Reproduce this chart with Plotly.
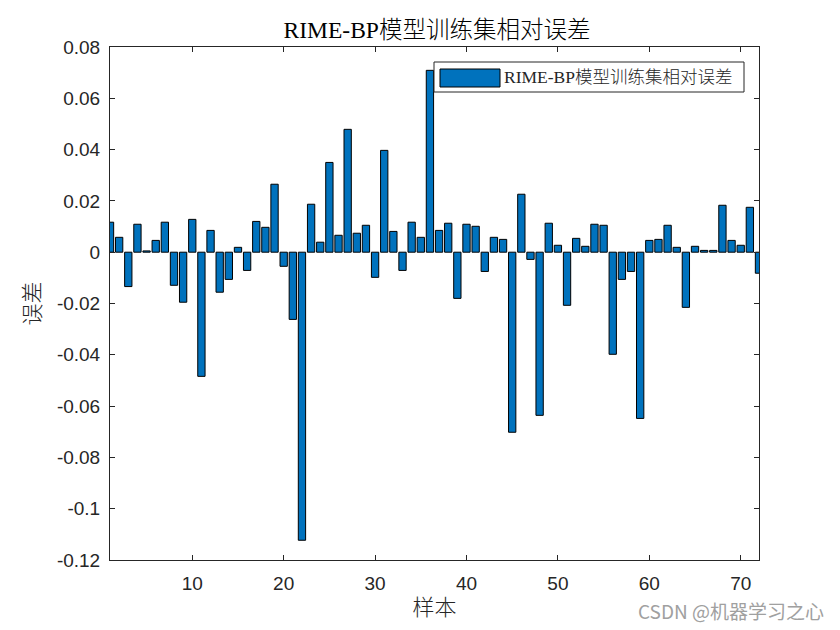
import plotly.graph_objects as go

samples = list(range(1, 73))
errors = [
    0.0117, 0.0058, -0.0134, 0.0109, 0.0005, 0.0046, 0.0117, -0.0129, -0.0195, 0.0128,
    -0.0484, 0.0085, -0.0156, -0.0106, 0.0019, -0.0071, 0.0120, 0.0097, 0.0265, -0.0055,
    -0.0262, -0.1123, 0.0187, 0.0039, 0.0350, 0.0066, 0.0479, 0.0074, 0.0105, -0.0098,
    0.0397, 0.0081, -0.0071, 0.0117, 0.0058, 0.0709, 0.0085, 0.0113, -0.0180, 0.0109,
    0.0101, -0.0075, 0.0058, 0.0050, -0.0702, 0.0226, -0.0028, -0.0636, 0.0113, 0.0027,
    -0.0207, 0.0054, 0.0023, 0.0109, 0.0105, -0.0398, -0.0106, -0.0075, -0.0648, 0.0046,
    0.0050, 0.0105, 0.0019, -0.0215, 0.0023, 0.0007, 0.0007, 0.0183, 0.0046, 0.0027,
    0.0175, -0.0082,
]
x_ticks = [10, 20, 30, 40, 50, 60, 70]
y_ticks = [0.08, 0.06, 0.04, 0.02, 0, -0.02, -0.04, -0.06, -0.08, -0.1, -0.12]
y_labels = ["0.08", "0.06", "0.04", "0.02", "0", "-0.02", "-0.04", "-0.06", "-0.08", "-0.1", "-0.12"]

name = "RIME-BP模型训练集相对误差"
blue = "#0072BD"
serif = "Liberation Serif, Noto Sans CJK SC"
sans = "Liberation Sans, Arial, sans-serif"

fig = go.Figure(go.Bar(
    x=samples, y=errors, name=name, width=0.8,
    marker=dict(color=blue, line=dict(color="black", width=1)),
    showlegend=False,
))

axis_common = dict(
    showline=True, linecolor="#262626", linewidth=1, mirror="ticks",
    ticks="inside", ticklen=5, tickcolor="#262626",
    showgrid=False, zeroline=False,
    tickfont=dict(family=sans, size=19, color="#262626"),
)

fig.update_xaxes(range=[1, 72], tickvals=x_ticks, ticklabelstandoff=6, **axis_common,
                 title=dict(text="样本", font=dict(family=serif, size=22, color="#262626", weight=300),
                            standoff=6))
fig.update_yaxes(range=[-0.12, 0.08], tickvals=y_ticks, ticktext=y_labels, ticklabelstandoff=5,
                 **axis_common,
                 title=dict(text="误差", font=dict(family=serif, size=22, color="#262626", weight=300),
                            standoff=10))

# legend box drawn MATLAB style (paper coords relative to plot area 110..759 x 47..560)
fig.add_shape(type="rect", xref="paper", yref="paper",
              x0=(434 - 110) / 649, x1=(744 - 110) / 649,
              y0=(560 - 92) / 513, y1=(560 - 62) / 513,
              line=dict(color="#262626", width=1), fillcolor="white")
fig.add_shape(type="rect", xref="paper", yref="paper",
              x0=(440 - 110) / 649, x1=(500 - 110) / 649,
              y0=(560 - 87) / 513, y1=(560 - 69) / 513,
              line=dict(color="black", width=1), fillcolor=blue)
fig.add_annotation(text=name, xref="paper", yref="paper",
                   x=(502 - 110) / 649, y=(560 - 77) / 513, xanchor="left", yanchor="middle",
                   showarrow=False, font=dict(family=serif, size=17.5, color="#262626", weight=300))

fig.add_annotation(text="CSDN @机器学习之心", xref="paper", yref="paper",
                   x=(826 - 110) / 649, y=(560 - 610) / 513, xanchor="right", yanchor="middle",
                   showarrow=False, font=dict(family="Noto Sans CJK SC", size=19, color="#a0a0a0"))

# page body adds an 8px offset, so margins are shifted by 8
fig.update_layout(
    width=840, height=630,
    margin=dict(l=102, r=89, t=39, b=78),
    paper_bgcolor="white", plot_bgcolor="white",
    title=dict(text=name, x=(437 - 8) / 840, xanchor="center", y=1 - 22 / 630, yanchor="middle",
               font=dict(family=serif, size=23.5, color="black", weight=300)),
    bargap=0.2,
)

fig.write_html("out.html")
